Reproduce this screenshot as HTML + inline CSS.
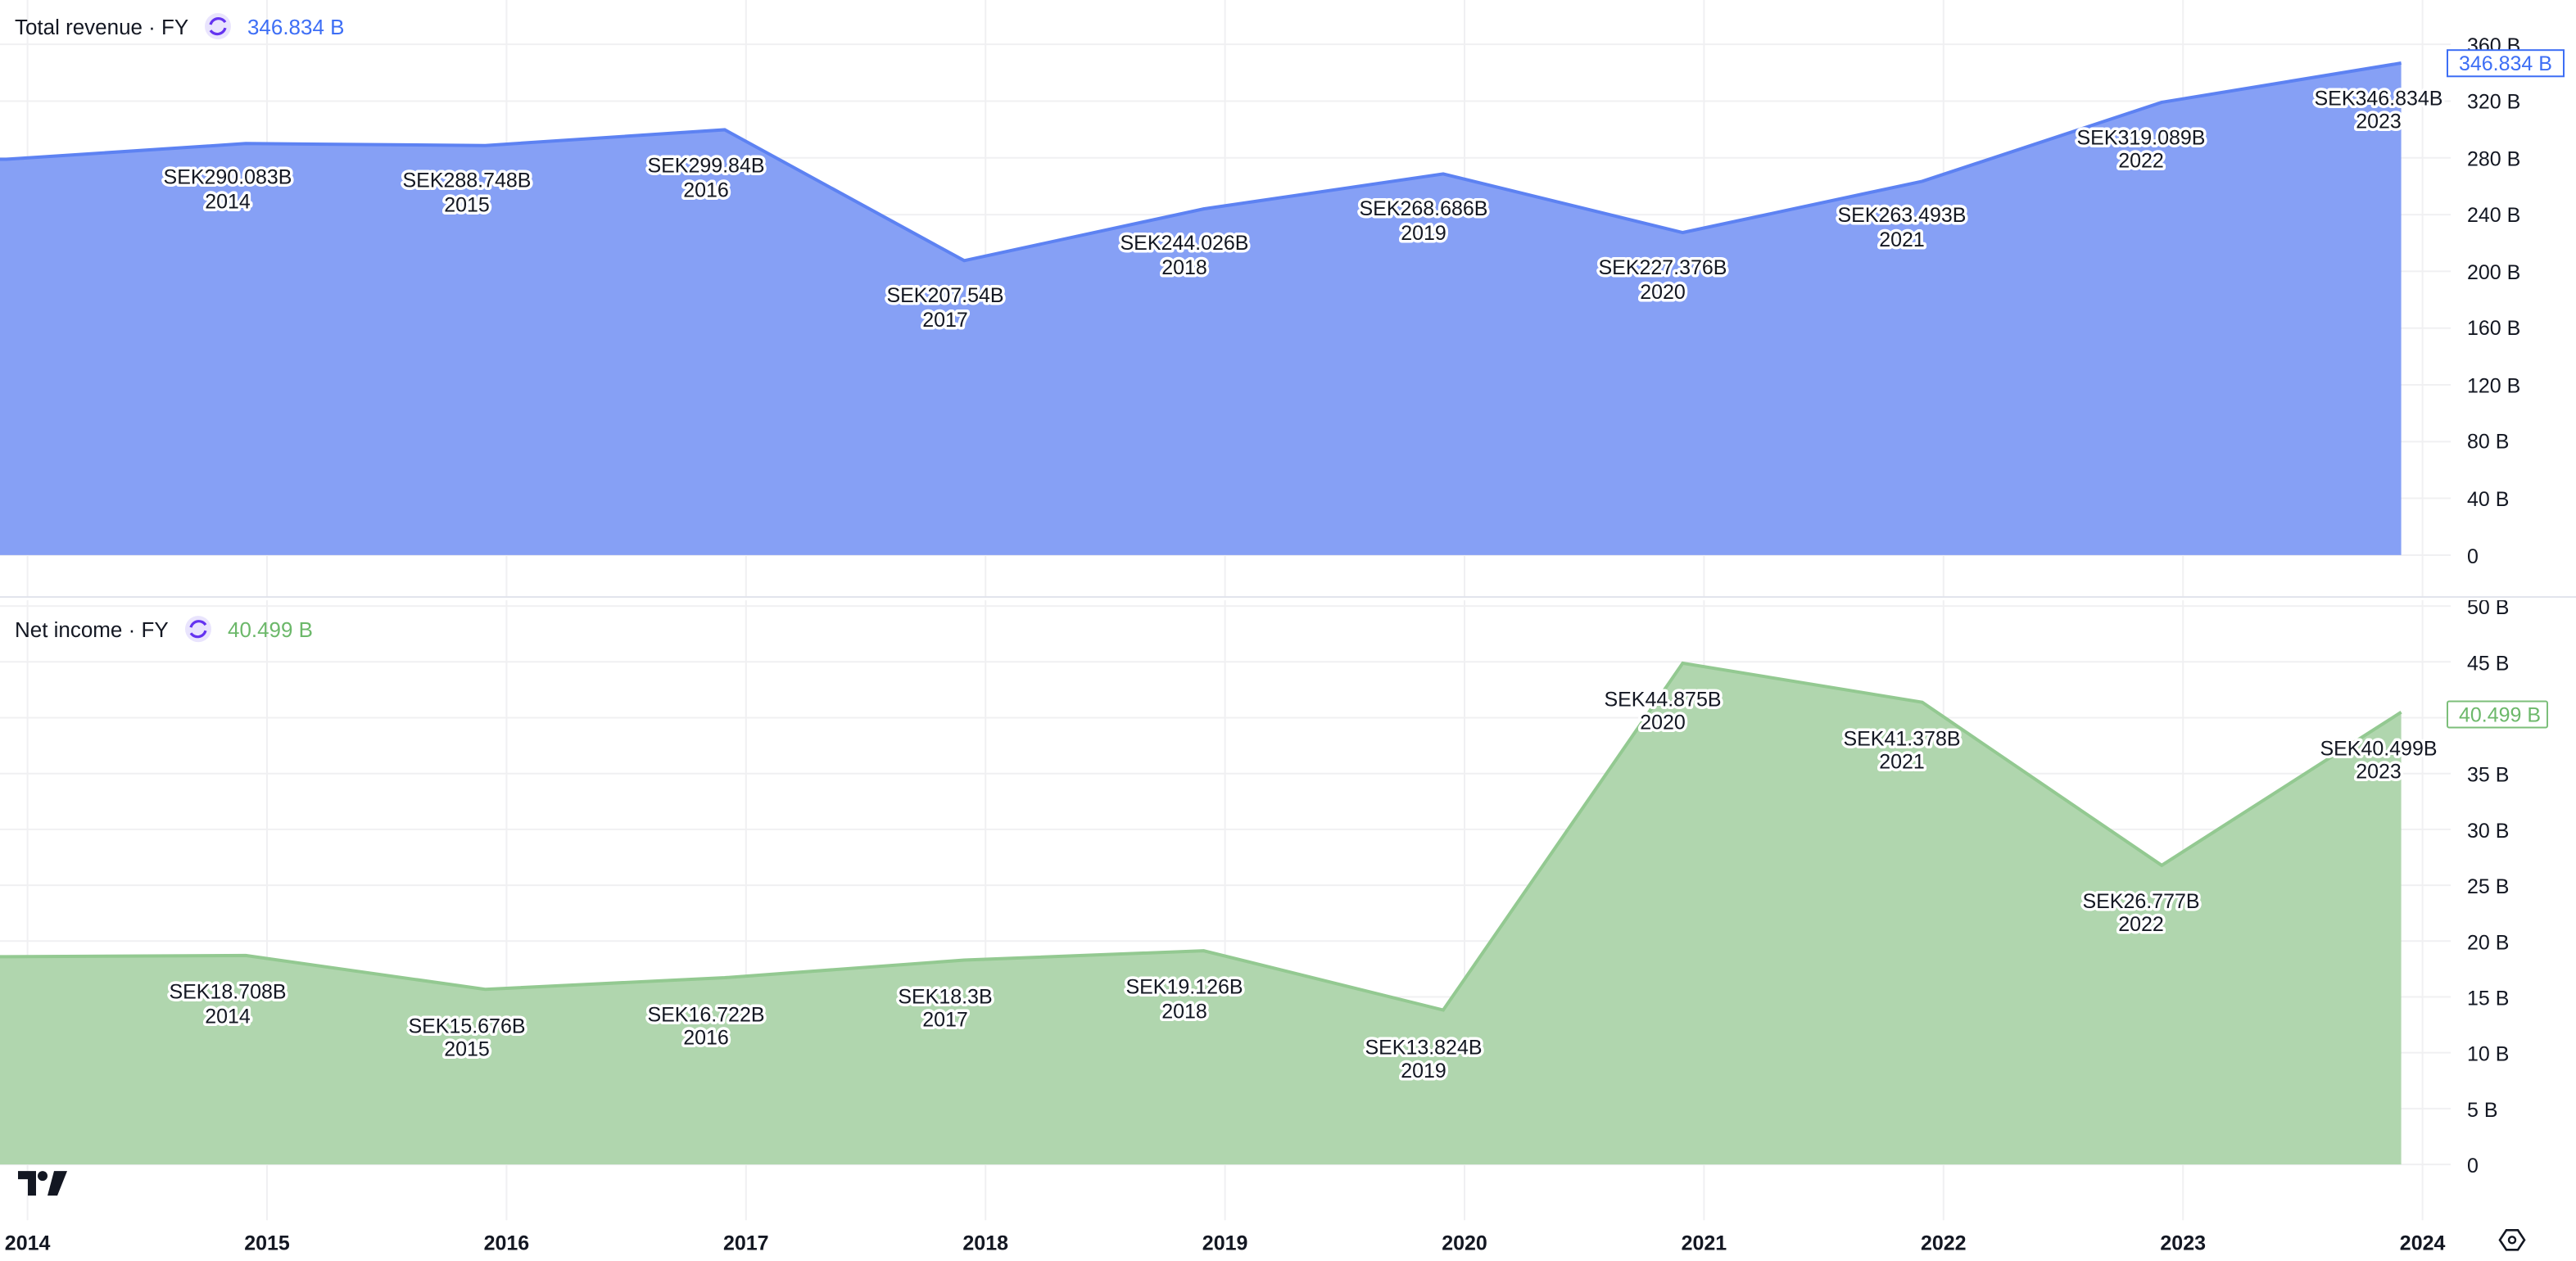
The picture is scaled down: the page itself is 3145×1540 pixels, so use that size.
<!DOCTYPE html>
<html><head><meta charset="utf-8"><style>
html,body{margin:0;padding:0;background:#fff;}
svg{display:block;}
text{font-family:"Liberation Sans",sans-serif;fill:#131722;}
.lb{font-size:12.5px;text-anchor:middle;stroke:#fff;stroke-width:3.5px;stroke-linejoin:round;paint-order:stroke;}
.ax{font-size:12.5px;}
.xa{font-size:12.5px;font-weight:bold;text-anchor:middle;}
</style></head><body>
<svg width="3145" height="1540" viewBox="0 0 1572.5 767.8" preserveAspectRatio="none" xmlns="http://www.w3.org/2000/svg">
<rect width="1572.5" height="770" fill="#fff"/>
<g stroke="#f0f0f2" stroke-width="1">
<line x1="16.8" y1="0" x2="16.8" y2="743"/><line x1="163" y1="0" x2="163" y2="743"/><line x1="309.2" y1="0" x2="309.2" y2="743"/><line x1="455.4" y1="0" x2="455.4" y2="743"/><line x1="601.6" y1="0" x2="601.6" y2="743"/><line x1="747.8" y1="0" x2="747.8" y2="743"/><line x1="894" y1="0" x2="894" y2="743"/><line x1="1040.2" y1="0" x2="1040.2" y2="743"/><line x1="1186.4" y1="0" x2="1186.4" y2="743"/><line x1="1332.6" y1="0" x2="1332.6" y2="743"/><line x1="1478.8" y1="0" x2="1478.8" y2="743"/>
<line x1="0" y1="27" x2="1496" y2="27"/><line x1="0" y1="61.6" x2="1496" y2="61.6"/><line x1="0" y1="96.1" x2="1496" y2="96.1"/><line x1="0" y1="130.7" x2="1496" y2="130.7"/><line x1="0" y1="165.2" x2="1496" y2="165.2"/><line x1="0" y1="199.8" x2="1496" y2="199.8"/><line x1="0" y1="234.3" x2="1496" y2="234.3"/><line x1="0" y1="268.9" x2="1496" y2="268.9"/><line x1="0" y1="303.4" x2="1496" y2="303.4"/><line x1="0" y1="338" x2="1496" y2="338"/>
<line x1="0" y1="369" x2="1496" y2="369"/><line x1="0" y1="403" x2="1496" y2="403"/><line x1="0" y1="437" x2="1496" y2="437"/><line x1="0" y1="471" x2="1496" y2="471"/><line x1="0" y1="505" x2="1496" y2="505"/><line x1="0" y1="539" x2="1496" y2="539"/><line x1="0" y1="573" x2="1496" y2="573"/><line x1="0" y1="607" x2="1496" y2="607"/><line x1="0" y1="641" x2="1496" y2="641"/><line x1="0" y1="675" x2="1496" y2="675"/><line x1="0" y1="709" x2="1496" y2="709"/>
</g>
<line x1="0" y1="363.5" x2="1572.5" y2="363.5" stroke="#e0e3eb" stroke-width="1"/>
<polygon points="0,97 3.8,97 150,87.4 296.2,88.6 442.4,79 588.6,158.7 734.8,127.2 881,105.9 1027.2,141.6 1173.4,110.4 1319.6,62.3 1465.8,38.4 1465.8,338 0,338" fill="#86a0f5"/>
<polyline points="0,97 3.8,97 150,87.4 296.2,88.6 442.4,79 588.6,158.7 734.8,127.2 881,105.9 1027.2,141.6 1173.4,110.4 1319.6,62.3 1465.8,38.4" fill="none" stroke="#5d82f2" stroke-width="2"/>
<polygon points="0,582.5 3.8,582.5 150,581.8 296.2,602.4 442.4,595.3 588.6,584.6 734.8,578.9 881,615 1027.2,403.8 1173.4,427.6 1319.6,526.9 1465.8,433.6 1465.8,709 0,709" fill="#b0d6ae"/>
<polyline points="0,582.5 3.8,582.5 150,581.8 296.2,602.4 442.4,595.3 588.6,584.6 734.8,578.9 881,615 1027.2,403.8 1173.4,427.6 1319.6,526.9 1465.8,433.6" fill="none" stroke="#93c991" stroke-width="2"/>
<g class="lb">
<text x="139" y="112">SEK290.083B</text><text x="139" y="127">2014</text>
<text x="285" y="114">SEK288.748B</text><text x="285" y="129">2015</text>
<text x="431" y="105">SEK299.84B</text><text x="431" y="120">2016</text>
<text x="577" y="184">SEK207.54B</text><text x="577" y="199">2017</text>
<text x="723" y="152">SEK244.026B</text><text x="723" y="167">2018</text>
<text x="869" y="131">SEK268.686B</text><text x="869" y="146">2019</text>
<text x="1015" y="167">SEK227.376B</text><text x="1015" y="182">2020</text>
<text x="1161" y="135">SEK263.493B</text><text x="1161" y="150">2021</text>
<text x="1307" y="88">SEK319.089B</text><text x="1307" y="102">2022</text>
<text x="1452" y="64">SEK346.834B</text><text x="1452" y="78">2023</text>
<text x="139" y="608">SEK18.708B</text><text x="139" y="623">2014</text>
<text x="285" y="629">SEK15.676B</text><text x="285" y="643">2015</text>
<text x="431" y="622">SEK16.722B</text><text x="431" y="636">2016</text>
<text x="577" y="611">SEK18.3B</text><text x="577" y="625">2017</text>
<text x="723" y="605">SEK19.126B</text><text x="723" y="620">2018</text>
<text x="869" y="642">SEK13.824B</text><text x="869" y="656">2019</text>
<text x="1015" y="430">SEK44.875B</text><text x="1015" y="444">2020</text>
<text x="1161" y="454">SEK41.378B</text><text x="1161" y="468">2021</text>
<text x="1307" y="553">SEK26.777B</text><text x="1307" y="567">2022</text>
<text x="1452" y="460">SEK40.499B</text><text x="1452" y="474">2023</text>
</g>
<text x="9" y="21" font-size="13">Total revenue · FY</text>
<circle cx="133" cy="16" r="8" fill="#e9e4fd"/>
<path d="M128.5,15 a5,5 0 0 1 9,-1.5 M137.5,17 a5,5 0 0 1 -9,1.5" fill="none" stroke="#6433f0" stroke-width="1.6"/>
<text x="151" y="21" font-size="13" style="fill:#3d6ef5">346.834 B</text>
<text x="9" y="388" font-size="13">Net income · FY</text>
<circle cx="121" cy="383" r="8" fill="#e9e4fd"/>
<path d="M116.5,382 a5,5 0 0 1 9,-1.5 M125.5,384 a5,5 0 0 1 -9,1.5" fill="none" stroke="#6433f0" stroke-width="1.6"/>
<text x="139" y="388" font-size="13" style="fill:#6cb86a">40.499 B</text>
<g class="ax">
<text x="1506" y="32">360 B</text><text x="1506" y="66">320 B</text><text x="1506" y="101">280 B</text><text x="1506" y="135">240 B</text><text x="1506" y="170">200 B</text><text x="1506" y="204">160 B</text><text x="1506" y="239">120 B</text><text x="1506" y="273">80 B</text><text x="1506" y="308">40 B</text><text x="1506" y="343">0</text>
<text x="1506" y="374">50 B</text><text x="1506" y="408">45 B</text><text x="1506" y="476">35 B</text><text x="1506" y="510">30 B</text><text x="1506" y="544">25 B</text><text x="1506" y="578">20 B</text><text x="1506" y="612">15 B</text><text x="1506" y="646">10 B</text><text x="1506" y="680">5 B</text><text x="1506" y="714">0</text>
</g>
<rect x="0" y="364" width="1572.5" height="1.5" fill="#fff"/>
<rect x="1494" y="30.5" width="71" height="16" fill="#fff" stroke="#3d6ef5" stroke-width="1"/>
<text x="1501" y="43" class="ax" style="fill:#3d6ef5">346.834 B</text>
<rect x="1494" y="427" width="61" height="16" rx="1" fill="#fff" stroke="#7cbf7a" stroke-width="1"/>
<text x="1501" y="439.5" class="ax" style="fill:#6cb86a">40.499 B</text>
<g class="xa">
<text x="16.8" y="761">2014</text><text x="163" y="761">2015</text><text x="309.2" y="761">2016</text><text x="455.4" y="761">2017</text><text x="601.6" y="761">2018</text><text x="747.8" y="761">2019</text><text x="894" y="761">2020</text><text x="1040.2" y="761">2021</text><text x="1186.4" y="761">2022</text><text x="1332.6" y="761">2023</text><text x="1478.8" y="761">2024</text>
</g>
<path d="M11,713 h11 v15 h-5 v-10 h-6z" fill="#131722"/>
<circle cx="26" cy="716" r="3" fill="#131722"/>
<path d="M33,713 h8 l-6,15 h-6z" fill="#131722"/>
<path d="M1526,755 l4,-6 h7 l4,6 l-4,6 h-7z" fill="none" stroke="#131722" stroke-width="1.3"/>
<circle cx="1533.5" cy="755" r="2" fill="none" stroke="#131722" stroke-width="1.2"/>
</svg>
</body></html>
